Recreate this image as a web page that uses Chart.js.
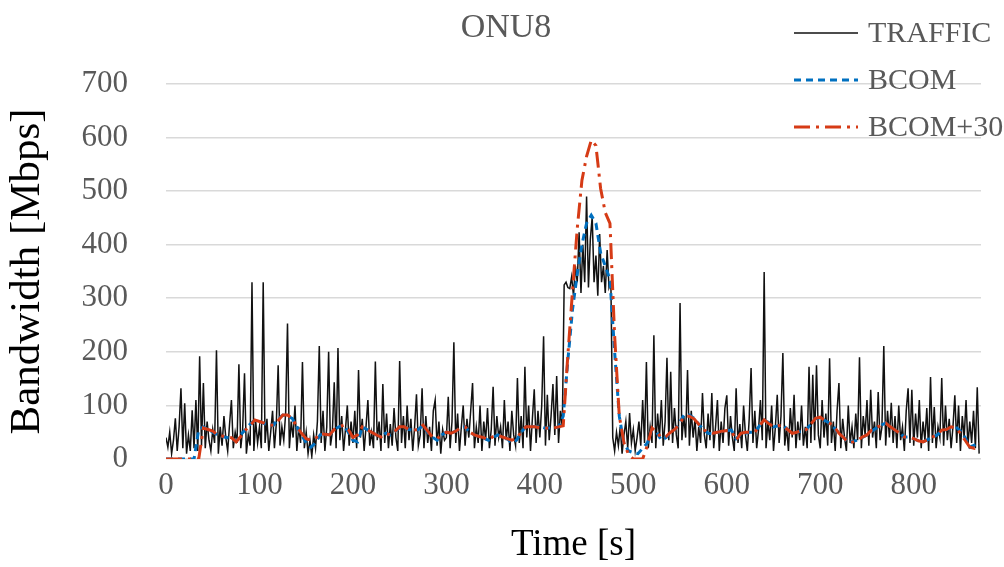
<!DOCTYPE html>
<html>
<head>
<meta charset="utf-8">
<title>ONU8</title>
<script src="https://cdn.jsdelivr.net/npm/chart.js@4.4.1/dist/chart.umd.min.js"></script>
<style>
  html, body { margin: 0; padding: 0; background: #ffffff; }
  #wrap { width: 1004px; height: 567px; }
</style>
</head>
<body>
<div id="wrap"><canvas id="chart" width="1004" height="567"></canvas></div>
<script>
// ---- data -------------------------------------------------------------
const chartTitle = 'ONU8';
const seriesLabels = ['TRAFFIC', 'BCOM', 'BCOM+30'];
const xTicks = [0, 100, 200, 300, 400, 500, 600, 700, 800];
const yTicks = [0, 100, 200, 300, 400, 500, 600, 700];
const xAxisTitle = 'Time [s]';
const yAxisTitle = 'Bandwidth [Mbps]';

// measured traffic, one sample every 2 s starting at t = 0
const trafficStep = 2;
const trafficMbps = [
  40, 22, 50, 10, 35, 76, 15, 60, 132, 20,
  104, 10, 45, 15, 91, 20, 110, 15, 192, 25,
  142, 20, 70, 35, 15, 55, 30, 203, 10, 60,
  25, 80, 40, 15, 65, 110, 20, 50, 30, 177,
  20, 55, 160, 10, 45, 25, 330, 15, 70, 30,
  60, 20, 330, 30, 75, 15, 50, 90, 20, 65,
  175, 25, 60, 35, 85, 253, 20, 70, 40, 100,
  15, 60, 30, 181, 20, 50, 10, 35, 5, 45,
  20, 70, 211, 30, 90, 15, 60, 200, 25, 50,
  143, 20, 207, 35, 80, 15, 55, 100, 25, 70,
  30, 90, 20, 166, 40, 75, 15, 60, 110, 25,
  50, 20, 182, 35, 70, 15, 140, 30, 85, 20,
  65, 25, 95, 40, 15, 183, 30, 80, 20, 100,
  35, 75, 15, 60, 121, 25, 45, 132, 20, 80,
  30, 60, 15, 90, 110, 25, 70, 10, 55, 35,
  40, 116, 20, 70, 218, 30, 85, 15, 60, 100,
  25, 75, 40, 90, 142, 20, 60, 30, 100, 15,
  70, 35, 95, 20, 55, 135, 25, 80, 40, 60,
  20, 110, 35, 70, 15, 90, 45, 25, 151, 30,
  80, 20, 172, 40, 100, 15, 75, 130, 30, 90,
  40, 100, 229, 25, 120, 35, 80, 140, 45, 155,
  30, 90, 60, 325, 330, 320, 318, 340, 305, 360,
  330, 423, 310, 400, 330, 490, 320, 410, 452, 330,
  380, 305, 420, 330, 360, 310, 390, 320, 330, 40,
  15, 50, 25, 60, 10, 45, 70, 20, 86, 30,
  55, 15, 40, 70, 25, 110, 30, 181, 20, 60,
  30, 231, 20, 85, 40, 110, 25, 70, 189, 35,
  163, 30, 95, 45, 20, 291, 35, 80, 40, 166,
  25, 90, 40, 75, 15, 60, 30, 123, 45, 20,
  85, 35, 123, 20, 60, 110, 15, 70, 30, 95,
  119, 25, 80, 40, 15, 132, 30, 65, 20, 100,
  45, 15, 75, 170, 30, 90, 20, 55, 110, 35,
  349, 20, 70, 35, 100, 15, 60, 120, 30, 80,
  198, 25, 60, 15, 95, 40, 120, 20, 70, 35,
  100, 25, 60, 20, 172, 30, 157, 35, 175, 45,
  20, 110, 40, 85, 25, 188, 30, 70, 15, 90,
  142, 20, 75, 40, 15, 100, 30, 60, 20, 85,
  35, 190, 20, 80, 45, 110, 25, 129, 40, 70,
  20, 125, 35, 60, 211, 25, 90, 40, 105, 30,
  80, 20, 100, 35, 60, 15, 90, 132, 30, 129,
  25, 85, 40, 110, 20, 70, 35, 95, 15, 153,
  30, 97, 20, 60, 40, 151, 25, 100, 35, 75,
  20, 60, 119, 30, 100, 15, 80, 40, 110, 25,
  70, 30, 90, 20, 134, 10
];

// allocated bandwidth, one sample every 5 s starting at t = 0
const bcomStep = 5;
const bcomMbps = [
  0, 0, 0, 0, 0, 0, 0, 55, 60, 55,
  50, 45, 42, 40, 38, 33, 45, 55, 65, 72,
  70, 66, 64, 63, 75, 82, 80, 76, 60, 45,
  30, 22, 30, 45, 47, 45, 55, 60, 63, 50,
  35, 32, 60, 55, 50, 45, 41, 48, 45, 52,
  58, 60, 55, 54, 55, 63, 50, 41, 35, 45,
  50, 48, 52, 58, 60, 50, 45, 42, 39, 35,
  40, 45, 41, 38, 30, 35, 50, 60, 60, 60,
  60, 58, 58, 58, 60, 80, 185, 280, 345, 400,
  440, 455, 440, 385, 360, 335, 200, 80, 28, 15,
  12, 10, 20, 30, 55, 50, 35, 40, 50, 56,
  70, 84, 82, 76, 65, 55, 48, 47, 50, 52,
  53, 54, 38, 46, 48, 50, 50, 62, 72, 68,
  60, 62, 63, 55, 48, 50, 52, 55, 65, 75,
  77, 72, 67, 58, 48, 40, 30, 33, 35, 40,
  45, 52, 58, 63, 67, 60, 54, 48, 41, 41,
  38, 34, 32, 36, 40, 45, 52, 55, 58, 60,
  52, 40, 22, 26, 30
];
const bcom30Mbps = [
  0, 0, 0, 0, 0, 0, 0, 0, 58, 55,
  52, 45, 43, 41, 40, 32, 42, 54, 62, 73,
  70, 67, 64, 63, 72, 82, 82, 76, 60, 48,
  38, 35, 38, 48, 46, 45, 55, 60, 63, 55,
  40, 45, 60, 55, 50, 45, 41, 48, 45, 52,
  60, 60, 55, 54, 55, 63, 52, 41, 38, 45,
  50, 48, 52, 58, 60, 50, 45, 42, 40, 36,
  42, 45, 41, 38, 35, 38, 50, 60, 60, 60,
  58, 58, 57, 58, 60, 62, 195, 315, 430, 520,
  565, 595, 585, 505, 460, 440, 230, 80, 30, 8,
  0, 0, 0, 25, 58, 50, 40, 42, 50, 56,
  68, 80, 80, 75, 65, 55, 50, 48, 50, 52,
  53, 52, 35, 48, 50, 50, 50, 62, 73, 66,
  60, 62, 63, 55, 48, 50, 54, 55, 65, 76,
  78, 72, 67, 60, 48, 40, 30, 32, 35, 41,
  45, 54, 58, 63, 67, 60, 54, 48, 41, 41,
  38, 34, 32, 36, 41, 45, 54, 55, 60, 58,
  48, 35, 22, 20, 28
];
const timeMax = 872;

// ---- chart ------------------------------------------------------------
const serif = "'Liberation Serif', 'Times New Roman', 'DejaVu Serif', serif";
const greyText = '#595959';

const toPoints = (values, step) => values.map((v, i) => ({ x: i * step, y: v }));

// legend drawn inside the plot, top right, plus the centred title
const overlayPlugin = {
  id: 'overlayLegend',
  afterDraw(chart) {
    const ctx = chart.ctx;
    ctx.save();
    ctx.fillStyle = greyText;
    ctx.font = '34px ' + serif;
    ctx.textAlign = 'center';
    ctx.textBaseline = 'middle';
    ctx.fillText(chartTitle, 506, 28);

    const rowY = [33, 80, 127];
    const lineX0 = 794, lineX1 = 858, textX = 868;
    ctx.font = '30px ' + serif;
    ctx.textAlign = 'left';
    chart.data.datasets.forEach((ds, i) => {
      const y = rowY[i];
      ctx.save();
      ctx.strokeStyle = ds.borderColor;
      ctx.lineWidth = ds.borderWidth;
      ctx.setLineDash(ds.borderDash || []);
      ctx.beginPath();
      ctx.moveTo(lineX0, y);
      ctx.lineTo(lineX1, y);
      ctx.stroke();
      ctx.restore();
      ctx.fillStyle = greyText;
      ctx.fillText(ds.label, textX, y + 1);
    });
    ctx.restore();
  }
};

new Chart(document.getElementById('chart'), {
  type: 'line',
  data: {
    datasets: [
      {
        label: seriesLabels[0],
        data: toPoints(trafficMbps, trafficStep),
        borderColor: '#111111',
        borderWidth: 1.5,
        pointRadius: 0,
        tension: 0,
        order: 3
      },
      {
        label: seriesLabels[1],
        data: toPoints(bcomMbps, bcomStep),
        borderColor: '#0070C0',
        borderWidth: 3,
        borderDash: [7, 5],
        pointRadius: 0,
        tension: 0,
        order: 2
      },
      {
        label: seriesLabels[2],
        data: toPoints(bcom30Mbps, bcomStep),
        borderColor: '#D63B16',
        borderWidth: 3,
        borderDash: [16, 6, 3, 6],
        pointRadius: 0,
        tension: 0,
        order: 1
      }
    ]
  },
  options: {
    responsive: false,
    animation: false,
    events: [],
    layout: { padding: { left: 2, right: 23, top: 84, bottom: 0 } },
    plugins: {
      legend: { display: false },
      title: { display: false },
      tooltip: { enabled: false }
    },
    scales: {
      x: {
        type: 'linear',
        min: 0,
        max: timeMax,
        grid: { display: false, drawTicks: false },
        border: { display: false },
        afterBuildTicks: (scale) => {
          scale.ticks = xTicks.map(v => ({ value: v }));
        },
        afterFit: (scale) => { scale.height = 108; },
        ticks: {
          color: greyText,
          font: { family: serif, size: 31 },
          padding: 8,
          maxRotation: 0,
          autoSkip: false,
          includeBounds: false
        },
        title: {
          display: true,
          text: xAxisTitle,
          color: '#000000',
          font: { family: serif, size: 37 },
          padding: { top: 0, bottom: 0 }
        }
      },
      y: {
        min: 0,
        max: 700,
        afterBuildTicks: (scale) => {
          scale.ticks = yTicks.map(v => ({ value: v }));
        },
        afterFit: (scale) => { scale.width = 164; },
        grid: { color: '#D9D9D9', lineWidth: 1.6, drawTicks: false },
        border: { display: false },
        ticks: {
          color: greyText,
          font: { family: serif, size: 31 },
          padding: 38
        },
        title: {
          display: true,
          text: yAxisTitle,
          color: '#000000',
          font: { family: serif, size: 43 },
          padding: { top: 0, bottom: 0 }
        }
      }
    }
  },
  plugins: [overlayPlugin]
});
</script>
</body>
</html>
